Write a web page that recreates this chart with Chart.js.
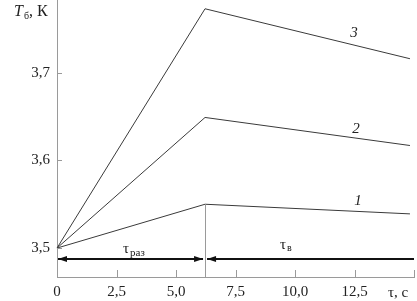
<!DOCTYPE html>
<html>
<head>
<meta charset="utf-8">
<script src="https://cdn.jsdelivr.net/npm/chart.js@4"></script>
<style>
  html, body { margin: 0; padding: 0; background: #fff; }
  #wrap { width: 417px; height: 301px; }
</style>
</head>
<body>
<div id="wrap"><canvas id="c" width="417" height="301"></canvas></div>
<script>
// time, s
const tau = [0, 6.22, 14.83];
// bolometer temperature, K
const curve1 = [3.5, 3.550, 3.539];
const curve2 = [3.5, 3.649, 3.617];
const curve3 = [3.5, 3.773, 3.716];
const curveNames = ['1', '2', '3'];
// heating interval end and arrow level
const tauRaz = 6.22;
const arrowLevel = 3.487;
const xTicks = [0, 2.5, 5, 7.5, 10, 12.5, 15];
const yTicks = [3.5, 3.6, 3.7];

const serif = "'Liberation Serif', 'DejaVu Serif', serif";
const axisGrey = '#9a9a9a';

function fmt(v) {
    if (v === 0) return '0';
    return v.toFixed(1).replace('.', ',');
}

// inside ticks, arrows, labels
const decor = {
    id: 'decor',
    afterDatasetsDraw(chart) {
        const ctx = chart.ctx;
        const xs = chart.scales.x, ys = chart.scales.y;
        const a = chart.chartArea;
        ctx.save();

        // ticks pointing inward
        ctx.strokeStyle = axisGrey;
        ctx.lineWidth = 1;
        xTicks.forEach(v => {
            if (v === 0) return;
            const px = Math.round(xs.getPixelForValue(v)) + 0.5;
            ctx.beginPath(); ctx.moveTo(px, a.bottom); ctx.lineTo(px, a.bottom - 7); ctx.stroke();
        });
        yTicks.forEach(v => {
            const py = Math.round(ys.getPixelForValue(v)) + 0.5;
            ctx.beginPath(); ctx.moveTo(a.left, py); ctx.lineTo(a.left + 5, py); ctx.stroke();
        });

        // divider at end of heating
        const xd = Math.round(xs.getPixelForValue(tauRaz)) + 0.5;
        ctx.beginPath();
        ctx.moveTo(xd, ys.getPixelForValue(curve1[1]));
        ctx.lineTo(xd, a.bottom);
        ctx.stroke();

        // arrows
        const ya = Math.round(ys.getPixelForValue(arrowLevel));
        const x0 = xs.getPixelForValue(0) + 1;
        const x1 = xs.getPixelForValue(tauRaz);
        const x2 = a.right;
        ctx.strokeStyle = '#111';
        ctx.fillStyle = '#111';
        ctx.lineWidth = 2;
        ctx.beginPath(); ctx.moveTo(x0, ya); ctx.lineTo(x1 - 2, ya); ctx.stroke();
        ctx.beginPath(); ctx.moveTo(x1 + 2, ya); ctx.lineTo(x2, ya); ctx.stroke();
        function head(x, dir) {
            ctx.beginPath();
            ctx.moveTo(x, ya);
            ctx.lineTo(x + dir * 9, ya - 3);
            ctx.lineTo(x + dir * 9, ya + 3);
            ctx.closePath();
            ctx.fill();
        }
        head(x0, 1);
        head(x1 - 2, -1);
        head(x1 + 2, 1);

        // interval labels
        ctx.fillStyle = '#222';
        ctx.textBaseline = 'alphabetic';
        ctx.font = '15px ' + serif;
        ctx.textAlign = 'left';
        ctx.fillText('τ', 123, 253);
        ctx.font = '11px ' + serif;
        ctx.fillText('раз', 130, 256);
        ctx.font = '15px ' + serif;
        ctx.fillText('τ', 280, 249);
        ctx.font = '10px ' + serif;
        ctx.fillText('в', 287, 251);

        // curve numbers
        ctx.font = 'italic 15px ' + serif;
        ctx.textAlign = 'center';
        ctx.fillText(curveNames[2], 354, 37);
        ctx.fillText(curveNames[1], 356, 133);
        ctx.fillText(curveNames[0], 358, 205);

        // axis titles
        ctx.textAlign = 'left';
        ctx.font = 'italic 16px ' + serif;
        ctx.fillText('T', 14, 16);
        ctx.font = '10px ' + serif;
        ctx.fillText('б', 24, 19);
        ctx.font = '16px ' + serif;
        ctx.fillText(', К', 29, 16);
        ctx.font = '15px ' + serif;
        ctx.textAlign = 'center';
        ctx.fillText('τ, с', 398, 297);

        ctx.restore();
    }
};

function series(ys) {
    return ys.map((y, i) => ({ x: tau[i], y: y }));
}

const lineStyle = {
    borderColor: '#3a3a3a',
    borderWidth: 1,
    pointRadius: 0,
    fill: false,
    tension: 0,
    clip: false,
};

new Chart(document.getElementById('c'), {
    type: 'line',
    data: {
        datasets: [
            Object.assign({ label: curveNames[0], data: series(curve1) }, lineStyle),
            Object.assign({ label: curveNames[1], data: series(curve2) }, lineStyle),
            Object.assign({ label: curveNames[2], data: series(curve3) }, lineStyle),
        ],
    },
    options: {
        responsive: false,
        animation: false,
        devicePixelRatio: 1,
        layout: { padding: { left: 0, right: 3, top: 0, bottom: 0 } },
        plugins: { legend: { display: false }, tooltip: { enabled: false } },
        scales: {
            x: {
                type: 'linear',
                min: 0, max: 15,
                afterBuildTicks: s => { s.ticks = xTicks.map(v => ({ value: v })); },
                afterFit: s => { s.height = 24; s.paddingLeft = 0; s.paddingRight = 0; },
                grid: { display: false, drawTicks: false },
                border: { display: true, color: axisGrey, width: 1 },
                ticks: {
                    padding: 6,
                    color: '#222',
                    font: { family: serif, size: 15 },
                    maxRotation: 0,
                    autoSkip: false,
                    callback: v => v === 15 ? '' : fmt(v),
                },
            },
            y: {
                type: 'linear',
                min: 3.467, max: 3.783,
                afterBuildTicks: s => { s.ticks = yTicks.map(v => ({ value: v })); },
                afterFit: s => { s.width = 57; s.paddingTop = 0; s.paddingBottom = 0; },
                grid: { display: false, drawTicks: false },
                border: { display: true, color: axisGrey, width: 1 },
                ticks: {
                    padding: 7,
                    color: '#222',
                    font: { family: serif, size: 15 },
                    callback: v => fmt(v),
                },
            },
        },
    },
    plugins: [decor],
});
</script>
</body>
</html>
